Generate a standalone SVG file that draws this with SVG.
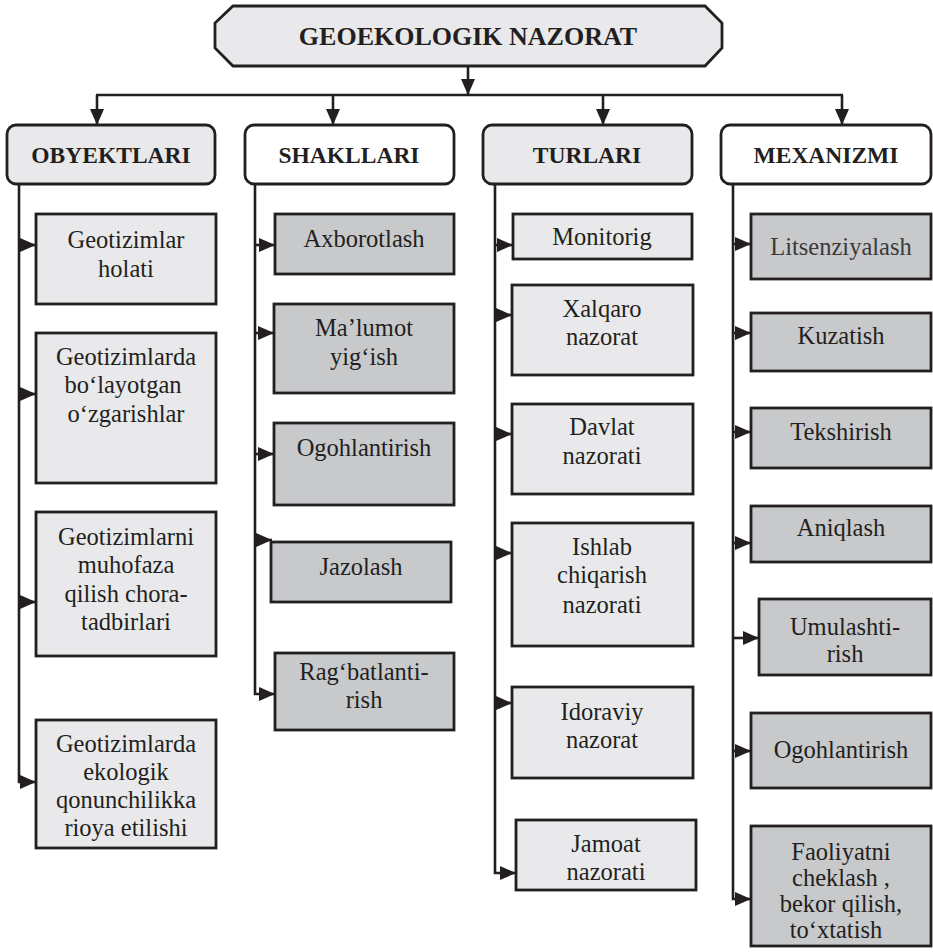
<svg xmlns="http://www.w3.org/2000/svg" width="933" height="952" viewBox="0 0 933 952" font-family="Liberation Serif, DejaVu Serif, serif">
<style>
  .lt{fill:#e9e9eb;stroke:#231f20;stroke-width:2.8}
  .dk{fill:#c8c9cb;stroke:#231f20;stroke-width:2.8}
  .wh{fill:#ffffff;stroke:#231f20;stroke-width:2.8}
  text{font-family:'Liberation Serif','DejaVu Serif',serif;fill:#231f20;text-anchor:middle}
  .t{font-size:24.5px}
  .h{font-size:23.5px;font-weight:bold}
  .ti{font-size:26px;font-weight:bold}
  .c{fill:none;stroke:#231f20;stroke-width:2.6}
  .a{fill:none;stroke:#231f20;stroke-width:2.6;marker-end:url(#ah)}
</style>
<defs>
  <marker id="ah" markerUnits="userSpaceOnUse" markerWidth="17" markerHeight="14" refX="16" refY="7" orient="auto">
    <path d="M0,0 L16,7 L0,14 z" fill="#231f20"/>
  </marker>
</defs>

<g id="connectors">
  <line class="a" x1="468" y1="66" x2="468" y2="95"/>
  <line class="c" x1="96" y1="95" x2="843" y2="95"/>
  <line class="a" x1="97" y1="95" x2="97" y2="125"/>
  <line class="a" x1="333" y1="95" x2="333" y2="125"/>
  <line class="a" x1="603" y1="95" x2="603" y2="125"/>
  <line class="a" x1="842" y1="95" x2="842" y2="125"/>

  <path class="a" d="M19,184 V782 H36"/>
  <path class="a" d="M19,245 H36"/>
  <path class="a" d="M19,394 H36"/>
  <path class="a" d="M19,602 H36"/>

  <path class="a" d="M255,184 V694 H275"/>
  <path class="a" d="M255,245 H275"/>
  <path class="a" d="M255,333 H274"/>
  <path class="a" d="M255,454 H274"/>
  <path class="a" d="M255,540 H272"/>

  <path class="a" d="M495,184 V873 H516"/>
  <path class="a" d="M495,245 H513"/>
  <path class="a" d="M495,315 H512"/>
  <path class="a" d="M495,434 H512"/>
  <path class="a" d="M495,553 H512"/>
  <path class="a" d="M495,703 H512"/>

  <path class="a" d="M733,184 V899 H751"/>
  <path class="a" d="M733,244 H751"/>
  <path class="a" d="M733,333 H751"/>
  <path class="a" d="M733,432 H751"/>
  <path class="a" d="M733,543 H751"/>
  <path class="a" d="M733,638 H759"/>
  <path class="a" d="M733,751 H751"/>
</g>

<g id="title">
  <polygon class="lt" points="233,6 705,6 722,23 722,48 705,66 233,66 215,48 215,23"/>
  <text class="ti" x="468" y="45">GEOEKOLOGIK NAZORAT</text>
</g>

<g id="h-obyektlari">
  <rect class="lt" x="7" y="125" width="208" height="59" rx="9"/>
  <text class="h" x="111" y="163">OBYEKTLARI</text>
</g>
<g id="h-shakllari">
  <rect class="wh" x="245" y="125" width="209" height="59" rx="9"/>
  <text class="h" x="349" y="163">SHAKLLARI</text>
</g>
<g id="h-turlari">
  <rect class="lt" x="483" y="125" width="209" height="59" rx="9"/>
  <text class="h" x="587" y="163">TURLARI</text>
</g>
<g id="h-mexanizmi">
  <rect class="wh" x="721" y="125" width="210" height="59" rx="9"/>
  <text class="h" x="826" y="163">MEXANIZMI</text>
</g>

<g id="o1">
  <rect class="lt" x="36" y="214" width="180" height="90"/>
  <text class="t" x="126" y="248">Geotizimlar</text>
  <text class="t" x="126" y="277">holati</text>
</g>
<g id="o2">
  <rect class="lt" x="36" y="333" width="180" height="150"/>
  <text class="t" x="126" y="365">Geotizimlarda</text>
  <text class="t" x="123" y="393">bo‘layotgan</text>
  <text class="t" x="126" y="422">o‘zgarishlar</text>
</g>
<g id="o3">
  <rect class="lt" x="36" y="512" width="180" height="144"/>
  <text class="t" x="126" y="545">Geotizimlarni</text>
  <text class="t" x="126" y="573">muhofaza</text>
  <text class="t" x="126" y="602">qilish chora-</text>
  <text class="t" x="126" y="630">tadbirlari</text>
</g>
<g id="o4">
  <rect class="lt" x="36" y="720" width="180" height="128"/>
  <text class="t" x="126" y="752">Geotizimlarda</text>
  <text class="t" x="126" y="780">ekologik</text>
  <text class="t" x="126" y="808">qonunchilikka</text>
  <text class="t" x="126" y="836">rioya etilishi</text>
</g>

<g id="s1">
  <rect class="dk" x="275" y="214" width="179" height="60"/>
  <text class="t" x="364" y="247">Axborotlash</text>
</g>
<g id="s2">
  <rect class="dk" x="274" y="304" width="180" height="89"/>
  <text class="t" x="364" y="336">Ma’lumot</text>
  <text class="t" x="364" y="365">yig‘ish</text>
</g>
<g id="s3">
  <rect class="dk" x="274" y="423" width="180" height="82"/>
  <text class="t" x="364" y="456">Ogohlantirish</text>
</g>
<g id="s4">
  <rect class="dk" x="271" y="542" width="180" height="60"/>
  <text class="t" x="361" y="575">Jazolash</text>
</g>
<g id="s5">
  <rect class="dk" x="275" y="653" width="179" height="77"/>
  <text class="t" x="364" y="680">Rag‘batlanti-</text>
  <text class="t" x="364" y="708">rish</text>
</g>

<g id="t1">
  <rect class="lt" x="513" y="214" width="179" height="45"/>
  <text class="t" x="602" y="245">Monitorig</text>
</g>
<g id="t2">
  <rect class="lt" x="512" y="285" width="181" height="90"/>
  <text class="t" x="602" y="317">Xalqaro</text>
  <text class="t" x="602" y="345">nazorat</text>
</g>
<g id="t3">
  <rect class="lt" x="512" y="404" width="181" height="90"/>
  <text class="t" x="602" y="435">Davlat</text>
  <text class="t" x="602" y="464">nazorati</text>
</g>
<g id="t4">
  <rect class="lt" x="512" y="523" width="181" height="123"/>
  <text class="t" x="602" y="555">Ishlab</text>
  <text class="t" x="602" y="583">chiqarish</text>
  <text class="t" x="602" y="613">nazorati</text>
</g>
<g id="t5">
  <rect class="lt" x="512" y="687" width="181" height="91"/>
  <text class="t" x="602" y="720">Idoraviy</text>
  <text class="t" x="602" y="748">nazorat</text>
</g>
<g id="t6">
  <rect class="lt" x="516" y="820" width="180" height="70"/>
  <text class="t" x="606" y="852">Jamoat</text>
  <text class="t" x="606" y="880">nazorati</text>
</g>

<g id="m1">
  <rect class="dk" x="751" y="214" width="180" height="65"/>
  <text class="t" x="841" y="255" style="fill:#3a3a3a">Litsenziyalash</text>
</g>
<g id="m2">
  <rect class="dk" x="751" y="313" width="180" height="58"/>
  <text class="t" x="841" y="344">Kuzatish</text>
</g>
<g id="m3">
  <rect class="dk" x="751" y="408" width="180" height="60"/>
  <text class="t" x="841" y="440">Tekshirish</text>
</g>
<g id="m4">
  <rect class="dk" x="751" y="506" width="180" height="56"/>
  <text class="t" x="841" y="536">Aniqlash</text>
</g>
<g id="m5">
  <rect class="dk" x="759" y="599" width="172" height="76"/>
  <text class="t" x="845" y="635">Umulashti-</text>
  <text class="t" x="845" y="662">rish</text>
</g>
<g id="m6">
  <rect class="dk" x="751" y="713" width="180" height="75"/>
  <text class="t" x="841" y="758">Ogohlantirish</text>
</g>
<g id="m7">
  <rect class="dk" x="751" y="826" width="180" height="120"/>
  <text class="t" x="841" y="860">Faoliyatni</text>
  <text class="t" x="841" y="886">cheklash ,</text>
  <text class="t" x="841" y="912">bekor qilish,</text>
  <text class="t" x="836" y="938">to‘xtatish</text>
</g>
</svg>
